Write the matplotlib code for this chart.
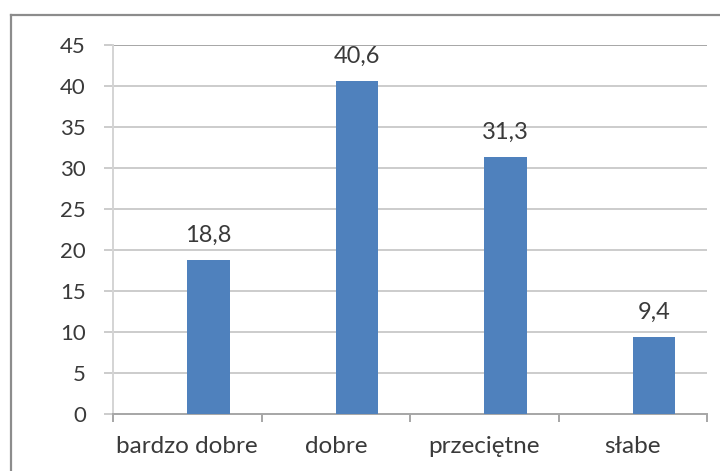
import numpy as np
import matplotlib.pyplot as plt
from matplotlib.lines import Line2D

categories = ["bardzo dobre", "dobre", "przeciętne", "słabe"]
values = [18.8, 40.6, 31.3, 9.4]
value_labels = ["18,8", "40,6", "31,3", "9,4"]
y_ticks = [0, 5, 10, 15, 20, 25, 30, 35, 40, 45]

plt.rcParams['font.family'] = ['Lato', 'DejaVu Sans']
txt = '#3a3a3a'
fs = 16

fig = plt.figure(figsize=(7.2, 4.71), dpi=100)
ax = fig.add_axes([113 / 720, 1 - 414 / 471, 594 / 720, 369 / 471])

# outer chart border, only left and top visible (picture is cropped)
bx, by = 11 / 720, 1 - 15 / 471
fig.lines.append(Line2D([bx, bx], [0.002, by], transform=fig.transFigure,
                        color='#8c8c8c', linewidth=1.6))
fig.lines.append(Line2D([bx, 0.998], [by, by], transform=fig.transFigure,
                        color='#8c8c8c', linewidth=1.6))

# excel style: empty first series, so bars sit right of the category centre
w = 2 / 7
x = np.arange(len(categories)) + 0.5
ax.bar(x + w / 2, values, width=w, color='#4F81BD', zorder=3)

for xi, v, lab in zip(x, values, value_labels):
    ax.text(xi + w / 2, v + 2.2, lab, ha='center', va='baseline',
            fontsize=17, color=txt)

ax.set_xlim(0, 4)
ax.set_ylim(0, 45)
ax.set_yticks(y_ticks)
ax.set_yticklabels([str(t) for t in y_ticks], fontsize=fs, color=txt)
for t in y_ticks[1:]:
    ax.axhline(t, color='#cccccc' if t < 45 else '#a6a6a6',
               linewidth=1.4, zorder=1)

ax.set_xticks([0, 1, 2, 3, 4])
ax.set_xticklabels([])
ax.set_xticks(x, minor=True)
ax.set_xticklabels(categories, minor=True, fontsize=17.5, color=txt)
ax.tick_params(axis='x', which='minor', length=0, pad=16)
ax.tick_params(axis='x', which='major', length=6, color='#a6a6a6', width=1.4)
ax.tick_params(axis='y', length=6.5, color='#cccccc', width=1.4, pad=13)

for s in ['top', 'right']:
    ax.spines[s].set_visible(False)
ax.spines['left'].set_color('#d4d4d4')
ax.spines['left'].set_linewidth(1.4)
ax.spines['bottom'].set_color('#a6a6a6')
ax.spines['bottom'].set_linewidth(1.4)

fig.savefig('out.png', dpi=100)
